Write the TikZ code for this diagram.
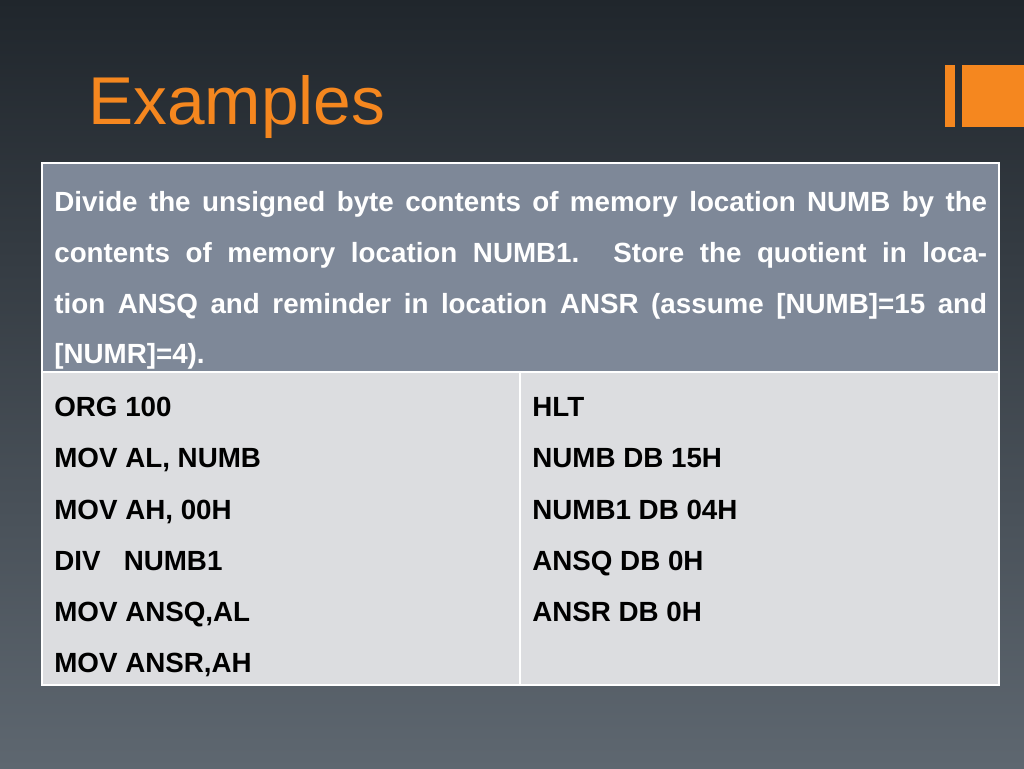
\documentclass[tikz,border=0pt]{standalone}
\usepackage{fontspec}
\setmainfont{Liberation Sans}
\usetikzlibrary{positioning}
\definecolor{bgtop}{HTML}{20262C}
\definecolor{bgbot}{HTML}{5E6770}
\definecolor{slideorange}{HTML}{F5871F}
\definecolor{headfill}{HTML}{7E8898}
\definecolor{bodyfill}{HTML}{DCDDE0}
\begin{document}
\begin{tikzpicture}[x=0.02cm,y=-0.02cm,
    codeline/.style={anchor=base west,inner sep=0pt,font=\fontsize{15.8}{18}\selectfont\bfseries,text=black}]
  \shade[top color=bgtop,bottom color=bgbot] (0,0) rectangle (1024,768);
  \useasboundingbox (0,0) rectangle (1024,768);
  % title and corner mark
  \node[anchor=base west,inner sep=0pt,text=slideorange,font=\fontsize{38.5}{44}\selectfont] (title) at (88,124) {Examples};
  \fill[slideorange] (945,65) rectangle (955,127);
  \fill[slideorange] (962,65) rectangle (1024,127);
  % table
  \fill[headfill] (42,163) rectangle (999,372);
  \fill[bodyfill] (42,372) rectangle (999,685);
  \draw[white,line width=1.2pt] (42,163) rectangle (999,685);
  \draw[white,line width=1.2pt] (42,372) -- (999,372);
  \draw[white,line width=1.2pt] (520,372) -- (520,685);
  \node[anchor=north west,inner sep=0pt,text width=18.66cm,align=justify,text=white,
        font=\fontsize{15.8}{28.9}\selectfont\bfseries] (task) at (54,191)
    {Divide the unsigned byte contents of memory location NUMB by the contents of memory location NUMB1. Store the quotient in location ANSQ and reminder in location ANSR (assume [NUMB]=15 and [NUMR]=4).};
  % code, left column
  \node[codeline] (l1) at (54,416) {ORG 100};
  \node[codeline] (l2) at (54,467) {MOV AL, NUMB};
  \node[codeline] (l3) at (54,519) {MOV AH, 00H};
  \node[codeline] (l4) at (54,570) {DIV\ \ \ NUMB1};
  \node[codeline] (l5) at (54,621) {MOV ANSQ,AL};
  \node[codeline] (l6) at (54,672) {MOV ANSR,AH};
  % code, right column
  \node[codeline] (r1) at (532,416) {HLT};
  \node[codeline] (r2) at (532,467) {NUMB DB 15H};
  \node[codeline] (r3) at (532,519) {NUMB1 DB 04H};
  \node[codeline] (r4) at (532,570) {ANSQ DB 0H};
  \node[codeline] (r5) at (532,621) {ANSR DB 0H};
\end{tikzpicture}
\end{document}
